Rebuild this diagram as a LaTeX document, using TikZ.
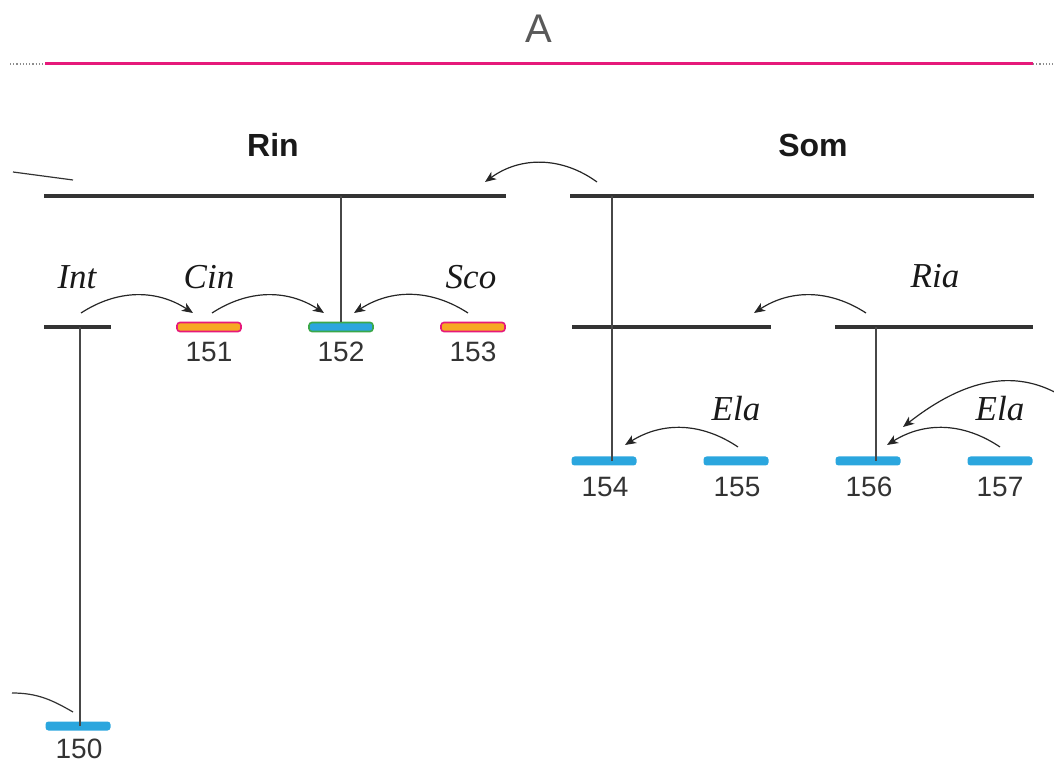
\documentclass[tikz,border=0pt]{standalone}
\usepackage{fontspec}
\setmainfont{Liberation Sans}
\newfontfamily\tnr{Liberation Serif}
\usetikzlibrary{arrows.meta}
\definecolor{pinkc}{HTML}{E6197A}
\definecolor{orangec}{HTML}{F7A823}
\definecolor{bluec}{HTML}{2BA6DE}
\definecolor{greenc}{HTML}{3BA849}
\definecolor{barc}{HTML}{333333}
\begin{document}
\begin{tikzpicture}[x=1pt,y=1pt,
  bar/.style={draw=barc,line width=3.5pt},
  vline/.style={draw=barc!90,line width=1.3pt},
  arr/.style={draw=black!85,line width=1.2pt,-{Stealth[length=11pt,width=9pt,inset=3pt]}},
  thin/.style={draw=black!80,line width=1.2pt},
  pillo/.style={rectangle,rounded corners=3pt,draw=pinkc,fill=orangec,line width=1.6pt,minimum width=64pt,minimum height=9pt,inner sep=0pt},
  pillg/.style={rectangle,rounded corners=3pt,draw=greenc,fill=bluec,line width=1.6pt,minimum width=64pt,minimum height=9pt,inner sep=0pt},
  pillb/.style={rectangle,rounded corners=3pt,fill=bluec,minimum width=65pt,minimum height=9pt,inner sep=0pt},
  num/.style={font=\fontsize{28}{30}\selectfont,text=black!80,inner sep=0pt},
  lab/.style={font=\tnr\itshape\fontsize{35}{37}\selectfont,text=black!90,inner sep=0pt},
  head/.style={font=\bfseries\fontsize{32}{34}\selectfont,text=black!90,inner sep=0pt}]
\useasboundingbox (0,0) rectangle (1054,763);
% title
\node[font=\fontsize{40}{42}\selectfont,text=black!65,inner sep=0pt] (A) at (539,734) {A};
\coordinate (pl1) at (45,699); \coordinate (pl2) at (1033,699);
\draw[pinkc,line width=3pt] (pl1) -- (pl2);
\coordinate (dl) at (10,699); \coordinate (dr) at (1054,699);
\draw[black!45,dotted,line width=1.2pt] (dl) -- (pl1);
\draw[black!45,dotted,line width=1.2pt] (pl2) -- (dr);
% headings
\node[head] (rin) at (273,618) {Rin};
\node[head] (som) at (813,618) {Som};
% top bars
\coordinate (rb1) at (44,567); \coordinate (rb2) at (506,567);
\coordinate (sb1) at (570,567); \coordinate (sb2) at (1034,567);
\draw[bar] (rb1) -- (rb2);
\draw[bar] (sb1) -- (sb2);
\coordinate (sl1) at (13,591); \coordinate (sl2) at (73,583);
\draw[thin] (sl1) -- (sl2);
% second level bars
\coordinate (ib1) at (44,436); \coordinate (ib2) at (111,436);
\coordinate (s21) at (572,436); \coordinate (s22) at (771,436);
\coordinate (s31) at (835,436); \coordinate (s32) at (1033,436);
\draw[bar] (ib1) -- (ib2);
\draw[bar] (s21) -- (s22);
\draw[bar] (s31) -- (s32);
% pills
\node[pillo] (p151) at (209,436) {};
\node[pillg] (p152) at (341,436) {};
\node[pillo] (p153) at (473,436) {};
\node[pillb] (p154) at (604,302) {};
\node[pillb] (p155) at (736,302) {};
\node[pillb] (p156) at (868,302) {};
\node[pillb] (p157) at (1000,302) {};
\node[pillb] (p150) at (78,37) {};
% numbers
\node[num] at (209,411) {151};
\node[num] at (341,411) {152};
\node[num] at (473,411) {153};
\node[num] at (605,276) {154};
\node[num] at (737,276) {155};
\node[num] at (869,276) {156};
\node[num] at (1000,276) {157};
\node[num] at (79,14) {150};
% vertical lines
\coordinate (v152) at (341,567);
\draw[vline] (v152) -- (p152.north);
\coordinate (v154) at (612,567);
\draw[vline] (v154) -- (612,302);
\coordinate (v156) at (876,436);
\draw[vline] (v156) -- (876,302);
\coordinate (v150) at (80,436);
\draw[vline] (v150) -- (80,37);
% italic labels
\node[lab] (int) at (77,486) {Int};
\node[lab] (cin) at (209,486) {Cin};
\node[lab] (sco) at (471,486) {Sco};
\node[lab] (ria) at (935,487) {Ria};
\node[lab] (ela1) at (736,354) {Ela};
\node[lab] (ela2) at (1000,354) {Ela};
% arrows
\coordinate (a1s) at (81,450); \coordinate (a1e) at (193,450);
\draw[arr] (a1s) to[bend left=33] (a1e);
\coordinate (a2s) at (212,450); \coordinate (a2e) at (324,450);
\draw[arr] (a2s) to[bend left=33] (a2e);
\coordinate (a3s) at (468,450); \coordinate (a3e) at (354,450);
\draw[arr] (a3s) to[bend right=33] (a3e);
\coordinate (a4s) at (866,450); \coordinate (a4e) at (754,450);
\draw[arr] (a4s) to[bend right=33] (a4e);
\coordinate (a5s) at (597,581); \coordinate (a5e) at (485,581);
\draw[arr] (a5s) to[bend right=36] (a5e);
\coordinate (a6s) at (738,316); \coordinate (a6e) at (625,318);
\draw[arr] (a6s) to[bend right=33] (a6e);
\coordinate (a7s) at (1000,316); \coordinate (a7e) at (887,318);
\draw[arr] (a7s) to[bend right=33] (a7e);
\coordinate (a8s) at (1060,368); \coordinate (a8e) at (903,336);
\draw[arr] (a8s) to[out=150,in=38] (a8e);
\coordinate (c1s) at (12,70); \coordinate (c1e) at (73,51);
\draw[thin] (c1s) to[out=0,in=150] (c1e);
\end{tikzpicture}
\end{document}
